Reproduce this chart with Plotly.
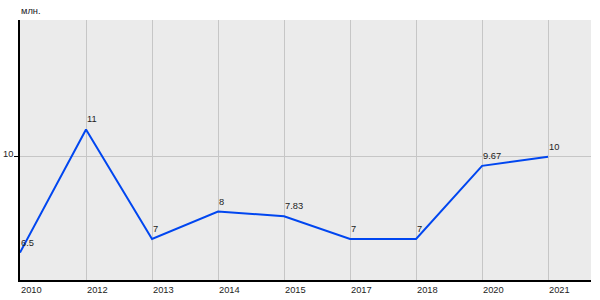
import plotly.graph_objects as go

years = ["2010", "2012", "2013", "2014", "2015", "2017", "2018", "2020", "2021"]
values = [6.5, 11, 7, 8, 7.83, 7, 7, 9.67, 10]
value_labels = ["6.5", "11", "7", "8", "7.83", "7", "7", "9.67", "10"]
y_ticks = [10]
y_tick_labels = ["10"]
unit_label = "млн."

idx = list(range(len(years)))
font = dict(family="Arial, Liberation Sans, sans-serif", size=9.3, color="#222222")

fig = go.Figure()
fig.add_trace(go.Scatter(
    x=idx, y=values, mode="lines",
    line=dict(color="#0046f0", width=2),
    cliponaxis=False, hoverinfo="skip",
))

annotations = [dict(x=i, y=0, xref="x", yref="paper", text=years[i],
                    xanchor="left", yanchor="top", yshift=-3, xshift=-1,
                    showarrow=False, font=font) for i in idx]
annotations += [dict(x=i, y=values[i], xref="x", yref="y", text=value_labels[i],
                     xanchor="left", yanchor="bottom", yshift=3, xshift=-1,
                     showarrow=False, font=font) for i in idx]
annotations += [dict(x=0, y=v, xref="paper", yref="y", text=t,
                     xanchor="right", yanchor="middle", xshift=-5, yshift=3,
                     showarrow=False, font=font) for v, t in zip(y_ticks, y_tick_labels)]
annotations.append(dict(x=0, y=1, xref="paper", yref="paper", text=unit_label,
                        xanchor="left", yanchor="bottom", yshift=2, xshift=-1,
                        showarrow=False, font=font))

fig.update_layout(
    width=600, height=300,
    margin=dict(l=20, r=9, t=20, b=20),
    paper_bgcolor="white", plot_bgcolor="#ebebeb",
    showlegend=False,
    font=font,
    annotations=annotations,
    xaxis=dict(
        range=[0, 8.65], tickvals=idx, showticklabels=False,
        showgrid=True, gridcolor="#c6c6c6", gridwidth=1,
        showline=True, linecolor="black", linewidth=1.5,
        zeroline=False, ticks="", fixedrange=True, automargin=False,
    ),
    yaxis=dict(
        range=[5.5, 15], tickvals=y_ticks, showticklabels=False,
        showgrid=True, gridcolor="#c6c6c6", gridwidth=1,
        showline=True, linecolor="black", linewidth=1.5,
        zeroline=False, ticks="outside", ticklen=4, tickcolor="black",
        fixedrange=True, automargin=False,
    ),
)

fig.write_html("out.html")
